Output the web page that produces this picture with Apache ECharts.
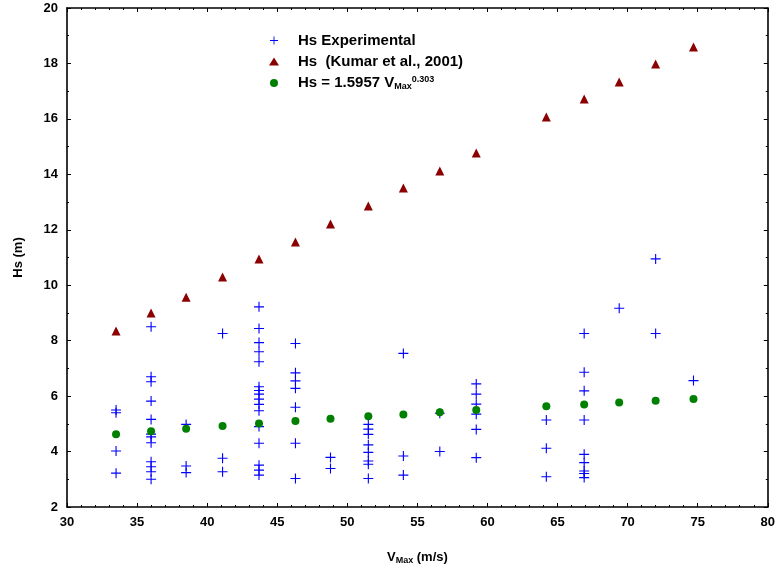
<!DOCTYPE html>
<html>
<head>
<meta charset="utf-8">
<script src="https://cdn.jsdelivr.net/npm/echarts@6/dist/echarts.min.js"></script>
<style>
html,body{margin:0;padding:0;background:#fff;}
#chart{width:778px;height:571px;}
</style>
</head>
<body>
<div id="chart"></div>
<script>
// Wind speeds (V_Max, m/s) for model curves
const vMax = [33.5, 36.0, 38.5, 41.1, 43.7, 46.3, 48.8, 51.5, 54.0, 56.6, 59.2, 64.2, 66.9, 69.4, 72.0, 74.7];
// Hs (Kumar et al., 2001)
const kumarHs = [8.35, 9.0, 9.57, 10.30, 10.95, 11.56, 12.21, 12.86, 13.51, 14.12, 14.77, 16.07, 16.72, 17.33, 17.98, 18.59];
// Hs = 1.5957 Vmax^0.303
const fitHs = [4.62, 4.73, 4.82, 4.92, 5.01, 5.10, 5.18, 5.27, 5.34, 5.42, 5.50, 5.63, 5.70, 5.77, 5.83, 5.90];
// Experimental observations
const expV = [
  33.5, 33.5, 33.5, 33.5,
  36.0, 36.0, 36.0, 36.0, 36.0, 36.0, 36.0, 36.0, 36.0, 36.0, 36.0, 36.0,
  38.5, 38.5, 38.5,
  41.1, 41.1, 41.1,
  43.7, 43.7, 43.7, 43.7, 43.7, 43.7, 43.7, 43.7, 43.7, 43.7, 43.7, 43.7, 43.7, 43.7, 43.7, 43.7,
  46.3, 46.3, 46.3, 46.3, 46.3, 46.3, 46.3,
  48.8, 48.8,
  51.5, 51.5, 51.5, 51.5, 51.5, 51.5, 51.5, 51.5,
  54.0, 54.0, 54.0,
  56.6, 56.6,
  59.2, 59.2, 59.2, 59.2, 59.2, 59.2,
  64.2, 64.2, 64.2,
  66.9, 66.9, 66.9, 66.9, 66.9, 66.9, 66.9, 66.9, 66.9,
  69.4,
  72.0, 72.0,
  74.7
];
const expHs = [
  5.50, 5.40, 4.02, 3.22,
  8.50, 6.70, 6.52, 5.82, 5.16, 4.63, 4.53, 4.32, 3.63, 3.45, 3.27, 3.00,
  4.98, 3.48, 3.24,
  8.26, 3.76, 3.27,
  9.22, 8.44, 7.93, 7.60, 7.24, 6.34, 6.20, 6.07, 5.89, 5.70, 5.47, 4.90, 4.30, 3.51, 3.33, 3.15,
  7.90, 6.84, 6.55, 6.28, 5.60, 4.30, 3.03,
  3.79, 3.39,
  4.98, 4.81, 4.62, 4.24, 3.97, 3.66, 3.54, 3.03,
  7.54, 3.84, 3.15,
  5.38, 4.00,
  6.44, 6.07, 5.71, 5.35, 4.80, 3.78,
  5.14, 4.12, 3.09,
  8.26, 6.86, 6.19, 5.14, 3.90, 3.60, 3.30, 3.21, 3.06,
  9.17,
  10.95, 8.26,
  6.56
];
const xTicks = {min: 30, max: 80, interval: 5};
const yTicks = {min: 2, max: 20, interval: 2};
const seriesNames = ['Hs Experimental', 'Hs  (Kumar et al., 2001)', 'Hs = 1.5957 V_Max^0.303'];

const FONT = '"Liberation Sans", Arial, sans-serif';
const plusPath = 'path://M4,0h1v4h4v1h-4v4h-1v-4h-4v-1h4z';

const axisLine = {show: true, onZero: false, lineStyle: {color: '#000', width: 1.6}};
const axisTick = {show: true, inside: true, length: 4, lineStyle: {color: '#000', width: 1}};

function mkX(pos, showLabel) {
  const a = {
    type: 'value', position: pos, min: xTicks.min, max: xTicks.max, interval: xTicks.interval,
    axisLine: axisLine, axisTick: axisTick, splitLine: {show: false},
    minorTick: {show: true, splitNumber: 5, length: 2, lineStyle: {color: '#000'}},
    axisLabel: showLabel ? {color: '#000', fontFamily: FONT, fontWeight: 'bold', fontSize: 13, margin: 9} : {show: false}
  };
  if (showLabel) {
    a.name = '{v|V}{sub|Max}{v| (m/s)}';
    a.nameLocation = 'middle';
    a.nameGap = 42;
    a.nameTextStyle = {rich: {
      v: {fontFamily: FONT, fontWeight: 'bold', fontSize: 13, color: '#000', lineHeight: 16},
      sub: {fontFamily: FONT, fontWeight: 'bold', fontSize: 9, color: '#000', lineHeight: 8, verticalAlign: 'bottom'}
    }};
  }
  return a;
}
function mkY(pos, showLabel) {
  const a = {
    type: 'value', position: pos, min: yTicks.min, max: yTicks.max, interval: yTicks.interval,
    axisLine: axisLine, axisTick: axisTick, splitLine: {show: false},
    minorTick: {show: true, splitNumber: 2, length: 2, lineStyle: {color: '#000'}},
    axisLabel: showLabel ? {color: '#000', fontFamily: FONT, fontWeight: 'bold', fontSize: 13, margin: 9} : {show: false}
  };
  if (showLabel) {
    a.name = 'Hs (m)';
    a.nameLocation = 'middle';
    a.nameGap = 42;
    a.nameRotate = 90;
    a.nameTextStyle = {fontFamily: FONT, fontWeight: 'bold', fontSize: 13, color: '#000'};
  }
  return a;
}

const chart = echarts.init(document.getElementById('chart'));
chart.setOption({
  animation: false,
  backgroundColor: '#fff',
  grid: {left: 67, right: 10, top: 8, bottom: 64, containLabel: false},
  xAxis: [mkX('bottom', true), mkX('top', false)],
  yAxis: [mkY('left', true), mkY('right', false)],
  legend: {
    orient: 'vertical', left: 269, top: 33, padding: 0,
    itemWidth: 10, itemHeight: 8, itemGap: 6,
    data: seriesNames,
    formatter: function (name) {
      if (name === seriesNames[2]) return '{t|Hs = 1.5957 V}{sub|Max}{sup|0.303}';
      return '{t|' + name + '}';
    },
    textStyle: {
      rich: {
        t: {fontFamily: FONT, fontWeight: 'bold', fontSize: 15, color: '#000', lineHeight: 16, padding: [0, 0, 0, 14]},
        sub: {fontFamily: FONT, fontWeight: 'bold', fontSize: 9, color: '#000', lineHeight: 7, verticalAlign: 'bottom'},
        sup: {fontFamily: FONT, fontWeight: 'bold', fontSize: 9, color: '#000', lineHeight: 7, verticalAlign: 'top'}
      }
    }
  },
  series: [
    {
      name: seriesNames[0], type: 'scatter', xAxisIndex: 0, yAxisIndex: 0,
      symbol: plusPath, symbolSize: 10,
      itemStyle: {color: '#0000ff', opacity: 1},
      data: expV.map((v, i) => [v, expHs[i]])
    },
    {
      name: seriesNames[1], type: 'scatter', xAxisIndex: 0, yAxisIndex: 0,
      symbol: 'triangle', symbolSize: 9,
      itemStyle: {color: '#8b0000', opacity: 1},
      data: vMax.map((v, i) => [v, kumarHs[i]])
    },
    {
      name: seriesNames[2], type: 'scatter', xAxisIndex: 0, yAxisIndex: 0,
      symbol: 'circle', symbolSize: 8,
      itemStyle: {color: '#008000', opacity: 1},
      data: vMax.map((v, i) => [v, fitHs[i]])
    }
  ]
});
</script>
</body>
</html>
